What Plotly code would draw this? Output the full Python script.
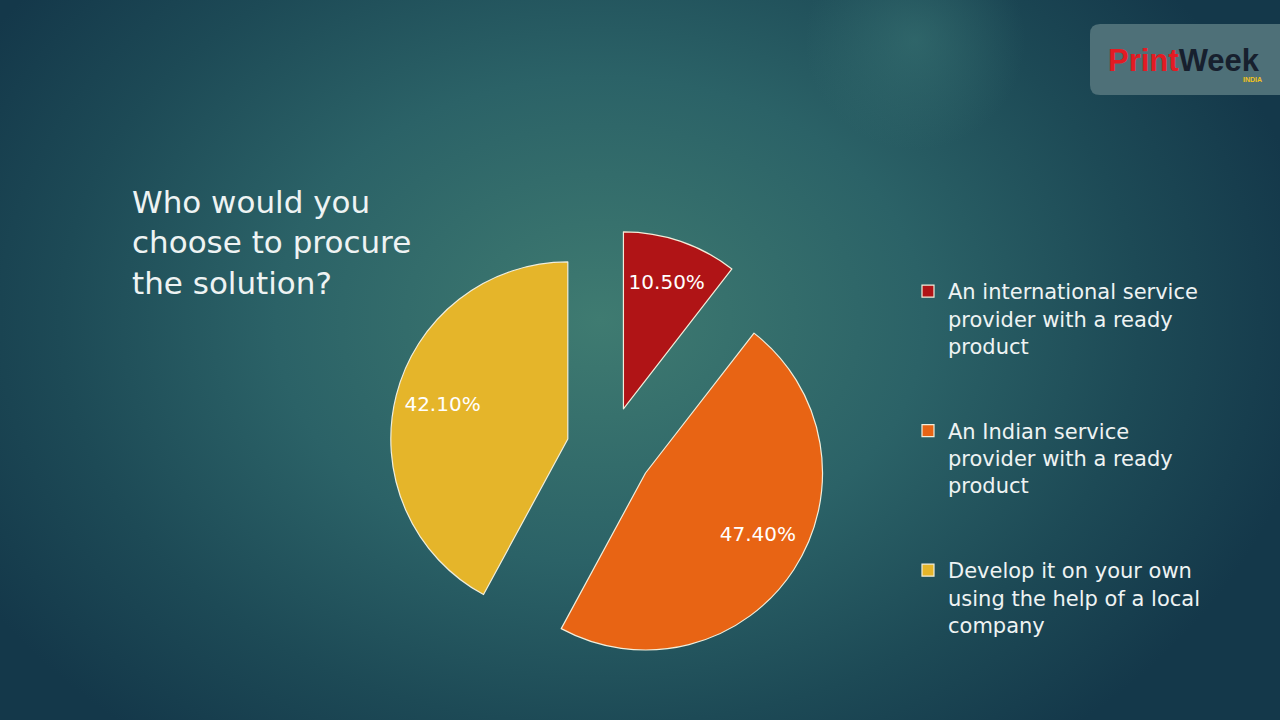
import base64
import plotly.graph_objects as go

# ---- data ----
labels = [
    "An international service<br>provider with a ready<br>product<br> <br> ",
    "An Indian service<br>provider with a ready<br>product<br> <br> ",
    "Develop it on your own<br>using the help of a local<br>company<br> <br> ",
]
values = [10.5, 47.4, 42.1]
colors = ["#b01416", "#e86414", "#e5b52a"]
title_lines = ["Who would you", "choose to procure", "the solution?"]

W, H = 1280, 720
NB = "\u00a0"

# ---- background gradient (SVG data URI) ----
svg = f"""<svg xmlns='http://www.w3.org/2000/svg' width='{W}' height='{H}' viewBox='0 0 {W} {H}' preserveAspectRatio='none'>
<defs>
<radialGradient id='g' gradientUnits='userSpaceOnUse' cx='600' cy='320' r='720' gradientTransform='translate(600,320) scale(1,0.75) translate(-600,-320)'>
<stop offset='0' stop-color='#3f7b71'/>
<stop offset='0.45' stop-color='#2b6267'/>
<stop offset='0.75' stop-color='#1d4a56'/>
<stop offset='1' stop-color='#14384a'/>
</radialGradient>
<radialGradient id='s' gradientUnits='userSpaceOnUse' cx='915' cy='40' r='110'>
<stop offset='0' stop-color='#3d7a78' stop-opacity='0.5'/>
<stop offset='1' stop-color='#3d7a78' stop-opacity='0'/>
</radialGradient>
</defs>
<rect x='0' y='0' width='{W}' height='{H}' fill='url(#g)'/>
<rect x='0' y='0' width='{W}' height='{H}' fill='url(#s)'/>
</svg>"""
bg_uri = "data:image/svg+xml;base64," + base64.b64encode(svg.encode()).decode()

FONT = "DejaVu Sans"
TXT = "#eef3f3"

fig = go.Figure()
fig.add_trace(go.Pie(
    labels=labels,
    values=values,
    sort=False,
    direction="clockwise",
    rotation=0,
    pull=[0.243, 0.243, 0.243],
    marker=dict(colors=colors, line=dict(color="#f1eedb", width=1.2)),
    texttemplate=[
        "%{value:.2f}%",
        NB + "<br>" + NB * 12 + "%{value:.2f}%",
        "%{value:.2f}%" + NB * 12 + "<br>" + NB,
    ],
    textposition="inside",
    insidetextorientation="horizontal",
    textfont=dict(family=FONT, size=20, color="#ffffff"),
    domain=dict(x=[389.5 / W, 829.5 / W], y=[1 - 669.5 / H, 1 - 229.5 / H]),
    hoverinfo="skip",
))

def px(x):
    return x / W

def py(y):
    return 1 - y / H

# logo box
r = 10
x0, x1, y0, y1 = 1090, 1280, 24, 95
path = (f"M {px(x0+r)},{py(y0)} L {px(x1)},{py(y0)} L {px(x1)},{py(y1)} L {px(x0+r)},{py(y1)} "
        f"Q {px(x0)},{py(y1)} {px(x0)},{py(y1-r)} L {px(x0)},{py(y0+r)} "
        f"Q {px(x0)},{py(y0)} {px(x0+r)},{py(y0)} Z")

fig.update_layout(
    width=W, height=H,
    margin=dict(l=0, r=0, t=0, b=0),
    paper_bgcolor="#23555d",
    showlegend=True,
    legend=dict(
        x=px(908), y=py(271), xanchor="left", yanchor="top",
        valign="top",
        font=dict(family=FONT, size=21, color=TXT),
        bgcolor="rgba(0,0,0,0)",
        traceorder="normal",
    ),
    images=[dict(source=bg_uri, xref="paper", yref="paper", x=0, y=1,
                 sizex=1, sizey=1, sizing="stretch", layer="below")],
    shapes=[dict(type="path", path=path, xref="paper", yref="paper",
                 fillcolor="#4e7078", line=dict(width=0))],
    annotations=[
        dict(text="<br>".join(title_lines), x=px(130), y=py(182), xref="paper", yref="paper",
             xanchor="left", yanchor="top", align="left", showarrow=False,
             font=dict(family=FONT, size=31, color=TXT)),
        dict(text="<b><span style='color:#e31b23'>Print</span><span style='color:#17202e'>Week</span></b>",
             x=px(1184), y=py(60), xref="paper", yref="paper", xanchor="center", yanchor="middle",
             showarrow=False, font=dict(family="Liberation Sans", size=31)),
        dict(text="<b>INDIA</b>", x=px(1252), y=py(79), xref="paper", yref="paper",
             xanchor="center", yanchor="middle", showarrow=False,
             font=dict(family="Liberation Sans", size=7, color="#f2c21b")),
    ],
)

fig.write_html(
    "out.html",
    config={"displayModeBar": False},
    post_script="document.body.style.margin='0';document.body.style.overflow='hidden';",
)
